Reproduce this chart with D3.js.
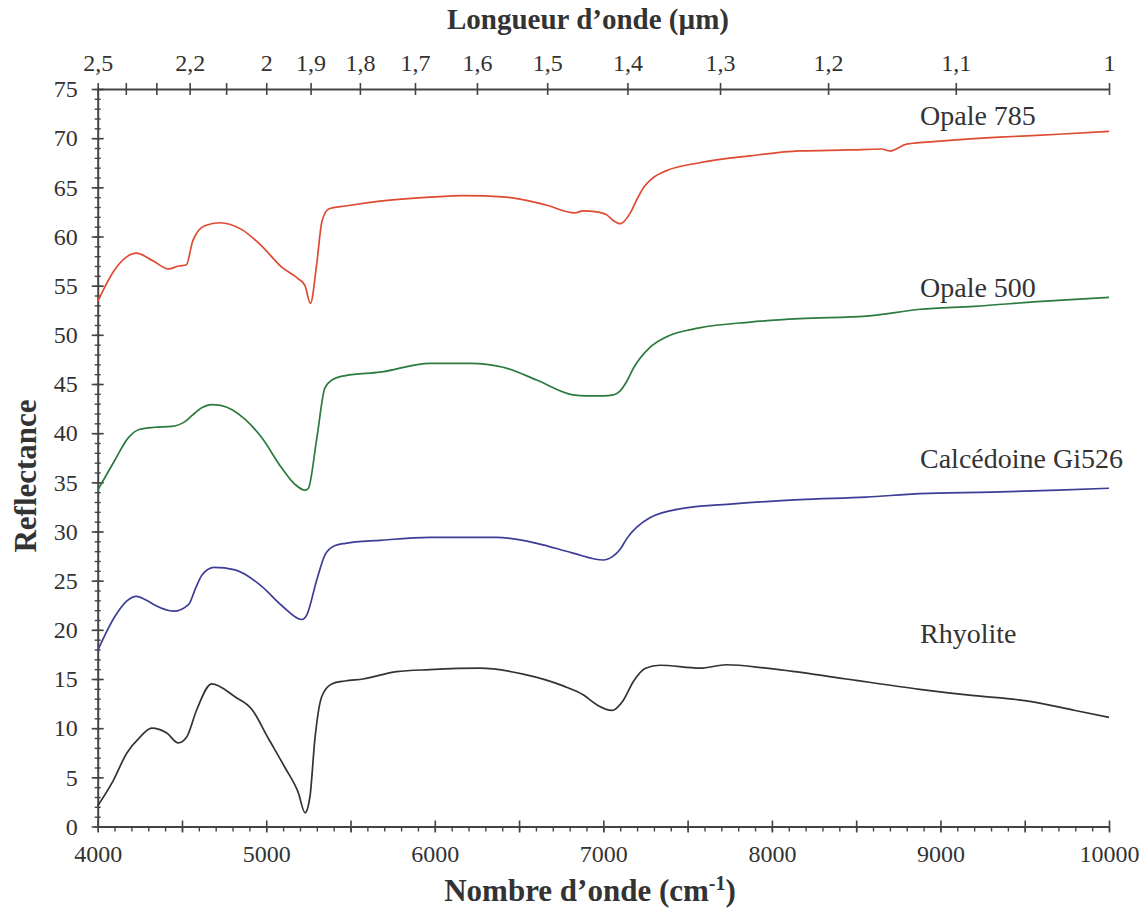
<!DOCTYPE html>
<html>
<head>
<meta charset="utf-8">
<script src="https://cdn.jsdelivr.net/npm/d3@7"></script>
<style>
  body { margin: 0; background: #fff; }
  text { font-family: "Liberation Serif", "DejaVu Serif", serif; fill: #333; }
</style>
</head>
<body>
<div id="chart"></div>
<script>
// Spectres de réflectance (opales, calcédoine, rhyolite)
const wn785 = [4000, 4100, 4170, 4230, 4330, 4420, 4480, 4525, 4565, 4635, 4725, 4855, 4975, 5090, 5190, 5230, 5262, 5300, 5330, 5370, 5470, 5675, 5970, 6170, 6425, 6660, 6830, 6880, 6960, 7020, 7060, 7100, 7160, 7200, 7240, 7290, 7375, 7570, 7870, 8165, 8460, 8650, 8700, 8800, 9000, 9350, 9700, 10000];
const r785 = [53.4, 56.6, 57.9, 58.3, 57.5, 56.7, 57.0, 57.1, 59.6, 61.1, 61.4, 60.7, 59.0, 56.9, 55.7, 55.0, 53.2, 57.3, 61.5, 62.8, 63.1, 63.6, 64.0, 64.15, 64.0, 63.2, 62.4, 62.6, 62.5, 62.2, 61.6, 61.3, 62.4, 63.8, 65.0, 65.9, 66.7, 67.5, 68.2, 68.7, 68.8, 68.9, 68.7, 69.4, 69.7, 70.1, 70.4, 70.7];

const wn500 = [4000, 4100, 4180, 4250, 4340, 4440, 4520, 4560, 4620, 4675, 4735, 4875, 4975, 5090, 5170, 5230, 5250, 5300, 5348, 5390, 5470, 5675, 5970, 6210, 6405, 6605, 6820, 6900, 7000, 7060, 7100, 7140, 7180, 7275, 7375, 7570, 7870, 8165, 8560, 8880, 9200, 9600, 10000];
const r500 = [34.2, 37.2, 39.5, 40.4, 40.6, 40.7, 41.2, 41.8, 42.6, 42.9, 42.8, 41.4, 39.5, 36.5, 34.8, 34.2, 34.4, 39.5, 44.6, 45.4, 45.85, 46.2, 47.1, 47.1, 46.7, 45.4, 43.9, 43.8, 43.8, 43.9, 44.3, 45.3, 46.65, 48.7, 49.8, 50.7, 51.3, 51.65, 51.9, 52.6, 52.9, 53.4, 53.8];

const wnGi526 = [4000, 4100, 4170, 4230, 4290, 4340, 4450, 4540, 4580, 4620, 4690, 4815, 4975, 5090, 5210, 5240, 5300, 5348, 5405, 5470, 5675, 5970, 6365, 6605, 6820, 7000, 7058, 7100, 7140, 7276, 7473, 7770, 8165, 8560, 8880, 9300, 9700, 10000];
const rGi526 = [17.9, 21.3, 22.9, 23.4, 23.0, 22.5, 21.9, 22.6, 24.2, 25.6, 26.35, 26.1, 24.4, 22.5, 21.05, 21.5, 25.1, 27.6, 28.55, 28.8, 29.1, 29.4, 29.4, 28.8, 27.8, 27.1, 27.5, 28.2, 29.3, 31.4, 32.35, 32.8, 33.25, 33.5, 33.85, 34.0, 34.2, 34.4];

const wnRhyo = [4000, 4093, 4172, 4251, 4320, 4410, 4478, 4528, 4587, 4676, 4814, 4913, 5012, 5111, 5190, 5230, 5259, 5289, 5329, 5388, 5467, 5575, 5773, 5971, 6267, 6524, 6762, 6880, 6959, 7050, 7117, 7180, 7250, 7335, 7572, 7731, 7968, 8363, 8877, 9200, 9500, 9800, 10000];
const rRhyo = [2.1, 4.7, 7.45, 9.1, 10.0, 9.5, 8.5, 9.1, 11.85, 14.5, 13.2, 11.95, 8.97, 6.0, 3.45, 1.4, 3.0, 8.97, 13.2, 14.5, 14.8, 15.0, 15.75, 15.95, 16.1, 15.5, 14.3, 13.4, 12.4, 11.8, 12.8, 14.8, 16.1, 16.4, 16.1, 16.45, 16.1, 15.2, 13.95, 13.3, 12.8, 11.8, 11.1];

const seriesNames = ['Opale 785', 'Opale 500', 'Calcédoine Gi526', 'Rhyolite'];
const seriesColors = ['#de4b32', '#2b7a3e', '#3d3d96', '#333333'];

// axe du haut : longueurs d'onde (µm)
const wlTicks = [2.5, 2.4, 2.3, 2.2, 2.1, 2, 1.9, 1.8, 1.7, 1.6, 1.5, 1.4, 1.3, 1.2, 1.1, 1];
const wlLabelled = [2.5, 2.2, 2, 1.9, 1.8, 1.7, 1.6, 1.5, 1.4, 1.3, 1.2, 1.1, 1];

const width = 1146, height = 915;
const mLeft = 97.7, mRight = 1109, mTop = 89, mBottom = 826.5;
const serif = '"Liberation Serif", "DejaVu Serif", serif';

const series = [
  {name: seriesNames[0], color: seriesColors[0], pts: d3.zip(wn785, r785), lx: 920, ly: 125},
  {name: seriesNames[1], color: seriesColors[1], pts: d3.zip(wn500, r500), lx: 920, ly: 297},
  {name: seriesNames[2], color: seriesColors[2], pts: d3.zip(wnGi526, rGi526), lx: 920, ly: 468},
  {name: seriesNames[3], color: seriesColors[3], pts: d3.zip(wnRhyo, rRhyo), lx: 920, ly: 643}
];

const svg = d3.select('#chart').append('svg')
  .attr('width', width)
  .attr('height', height)
  .attr('font-family', serif);

const x = d3.scaleLinear().domain([4000, 10000]).range([mLeft, mRight]);
const y = d3.scaleLinear().domain([0, 75]).range([mBottom, mTop]);

const axisColor = '#444';

function styleAxis(g) {
  g.attr('font-family', serif);
  g.select('.domain').attr('stroke', axisColor).attr('stroke-width', 2);
  g.selectAll('.tick line').attr('stroke', axisColor).attr('stroke-width', 1.6);
  g.selectAll('.tick text').attr('font-size', 24).attr('fill', '#333')
    .style('font-family', serif);
}

// axe Y, graduations secondaires
svg.append('g')
  .attr('transform', `translate(${mLeft},0)`)
  .call(d3.axisLeft(y).tickValues(d3.range(0, 76, 1)).tickSize(0).tickFormat(''))
  .call(g => g.select('.domain').remove())
  .call(g => g.selectAll('.tick line').attr('x1', -3).attr('x2', 3)
    .attr('stroke', axisColor).attr('stroke-width', 1.4));

// axe Y principal
svg.append('g')
  .attr('transform', `translate(${mLeft},0)`)
  .call(d3.axisLeft(y).tickValues(d3.range(0, 76, 5)).tickSizeOuter(0).tickPadding(14).tickFormat(d3.format('d')))
  .call(styleAxis)
  .call(g => g.selectAll('.tick line').attr('x1', -6).attr('x2', 6));

// axe X, graduations secondaires
svg.append('g')
  .attr('transform', `translate(0,${mBottom})`)
  .call(d3.axisBottom(x).tickValues(d3.range(4000, 10001, 100)).tickSize(5).tickFormat(''))
  .call(g => g.select('.domain').remove())
  .call(g => g.selectAll('.tick line').attr('stroke', axisColor).attr('stroke-width', 1.4));

// axe X principal
svg.append('g')
  .attr('transform', `translate(0,${mBottom})`)
  .call(d3.axisBottom(x).tickValues(d3.range(4000, 10001, 500)).tickSizeOuter(0).tickPadding(12)
    .tickFormat(d => d % 1000 === 0 ? d : ''))
  .call(styleAxis)
  .call(g => g.selectAll('.tick line').attr('y1', -6).attr('y2', 6));

// axe du haut en µm
const fmtWl = d3.format('.1f');
svg.append('g')
  .attr('transform', `translate(0,${mTop})`)
  .call(d3.axisTop(x).tickValues(wlTicks.map(w => 1e4 / w)).tickSizeOuter(0).tickPadding(12)
    .tickFormat(d => {
      const w = Math.round(1e5 / d) / 10;
      if (!wlLabelled.includes(w)) return '';
      return Number.isInteger(w) ? String(w) : fmtWl(w).replace('.', ',');
    }))
  .call(styleAxis)
  .call(g => g.selectAll('.tick line').attr('y1', -6).attr('y2', 6));

// courbes
const line = d3.line()
  .x(d => x(d[0]))
  .y(d => y(d[1]))
  .curve(d3.curveMonotoneX);

svg.append('g').selectAll('path')
  .data(series)
  .join('path')
  .attr('fill', 'none')
  .attr('stroke', d => d.color)
  .attr('stroke-width', 1.7)
  .attr('d', d => line(d.pts));

svg.append('g').selectAll('text')
  .data(series)
  .join('text')
  .attr('x', d => d.lx)
  .attr('y', d => d.ly)
  .attr('font-size', 28)
  .text(d => d.name);

// titres des axes
svg.append('text')
  .attr('x', 588)
  .attr('y', 29)
  .attr('text-anchor', 'middle')
  .attr('font-size', 29)
  .attr('font-weight', 'bold')
  .text('Longueur d’onde (µm)');

const xt = svg.append('text')
  .attr('x', 590)
  .attr('y', 901)
  .attr('text-anchor', 'middle')
  .attr('font-size', 31)
  .attr('font-weight', 'bold');
xt.append('tspan').text('Nombre d’onde (cm');
xt.append('tspan').attr('font-size', 20).attr('dy', -11).text('-1');
xt.append('tspan').attr('dy', 11).text(')');

svg.append('text')
  .attr('transform', 'translate(36,476) rotate(-90)')
  .attr('text-anchor', 'middle')
  .attr('font-size', 31)
  .attr('font-weight', 'bold')
  .text('Reflectance');
</script>
</body>
</html>
